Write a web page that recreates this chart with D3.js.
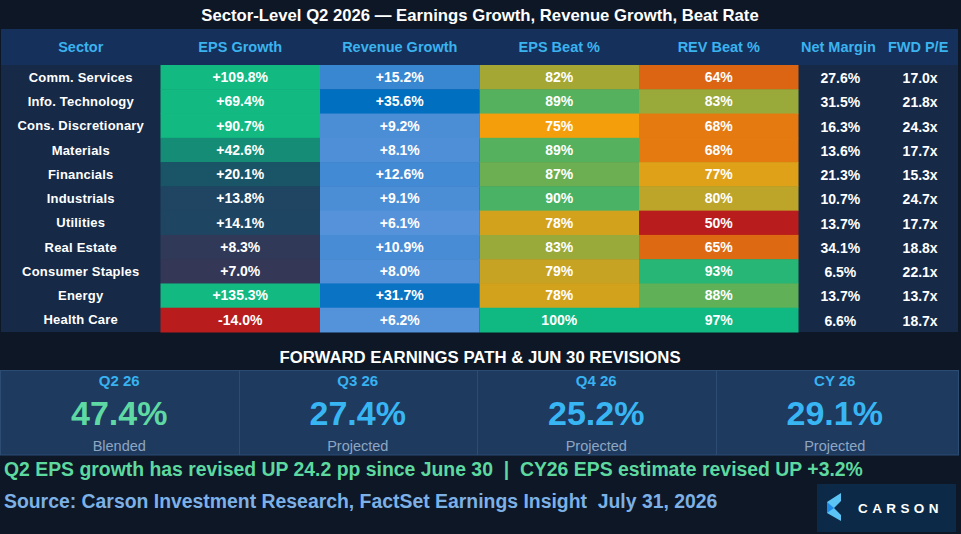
<!DOCTYPE html>
<html>
<head>
<meta charset="utf-8">
<script src="https://cdn.jsdelivr.net/npm/d3@7"></script>
<style>
  html, body { margin: 0; padding: 0; background: #0d1726; }
  svg { display: block; }
  text { font-family: "Liberation Sans", Arial, sans-serif; }
</style>
</head>
<body>
<div id="chart"></div>
<script>
// ---------------- DATA ----------------
const title = "Sector-Level Q2 2026 \u2014 Earnings Growth, Revenue Growth, Beat Rate";
const columns = ["Sector", "EPS Growth", "Revenue Growth", "EPS Beat %", "REV Beat %", "Net Margin", "FWD P/E"];
const sectors = ["Comm. Services", "Info. Technology", "Cons. Discretionary", "Materials", "Financials",
  "Industrials", "Utilities", "Real Estate", "Consumer Staples", "Energy", "Health Care"];
const epsGrowth = [109.8, 69.4, 90.7, 42.6, 20.1, 13.8, 14.1, 8.3, 7.0, 135.3, -14.0];
const revGrowth = [15.2, 35.6, 9.2, 8.1, 12.6, 9.1, 6.1, 10.9, 8.0, 31.7, 6.2];
const epsBeat = [82, 89, 75, 89, 87, 90, 78, 83, 79, 78, 100];
const revBeat = [64, 83, 68, 68, 77, 80, 50, 65, 93, 88, 97];
const netMargin = [27.6, 31.5, 16.3, 13.6, 21.3, 10.7, 13.7, 34.1, 6.5, 13.7, 6.6];
const fwdPE = [17.0, 21.8, 24.3, 17.7, 15.3, 24.7, 17.7, 18.8, 22.1, 13.7, 18.7];

const sectionTitle = "FORWARD EARNINGS PATH & JUN 30 REVISIONS";
const cardLabels = ["Q2 26", "Q3 26", "Q4 26", "CY 26"];
const cardValues = [47.4, 27.4, 25.2, 29.1];
const cardSubs = ["Blended", "Projected", "Projected", "Projected"];
const noteText = "Q2 EPS growth has revised UP 24.2 pp since June 30\u00a0\u00a0|\u00a0\u00a0CY26 EPS estimate revised UP +3.2%";
const sourceText = "Source: Carson Investment Research, FactSet Earnings Insight\u00a0\u00a0July 31, 2026";
const logoText = "CARSON";

// ---------------- LAYOUT ----------------
const W = 961, H = 534;
const svg = d3.select("#chart").append("svg").attr("width", W).attr("height", H);
svg.append("rect").attr("width", W).attr("height", H).attr("fill", "#0d1726");

const colWeights = [2, 2, 2, 2, 2, 1, 1];
const cum = [0]; colWeights.forEach(w => cum.push(cum[cum.length - 1] + w));
const xw = d3.scaleLinear().domain([0, cum[cum.length - 1]]).range([1, 958]);
const colX = i => xw(cum[i]);
const colW = i => xw(cum[i + 1]) - xw(cum[i]);

const y = d3.scaleBand().domain(sectors).range([65, 332]);

// color scales
const epsColor = d3.scaleLinear().domain([-10, 5, 15, 60])
  .range(["#b91c1c", "#3a3352", "#1b4764", "#12b981"]).clamp(true);
const revColor = d3.scaleLinear().domain([5, 35])
  .range(["#5893da", "#006fc0"]).clamp(true);
const beatColor = d3.scaleLinear().domain([50, 75, 95])
  .range(["#b91c1c", "#f59e0b", "#10b981"]).clamp(true);

const loc = d3.formatLocale({ decimal: ".", thousands: ",", grouping: [3], currency: ["$", ""], minus: "-" });
const fmtGrowth = v => loc.format("+.1f")(v) + "%";
const fmtBeat = v => loc.format("d")(v) + "%";
const fmtPct = v => loc.format(".1f")(v) + "%";
const fmtX = v => loc.format(".1f")(v) + "x";

// title
svg.append("text").attr("x", 480).attr("y", 15).attr("dy", "0.35em")
  .attr("text-anchor", "middle").attr("fill", "#ffffff")
  .attr("font-size", 16.7).attr("font-weight", "bold").text(title);

// header row
svg.append("rect").attr("x", 1).attr("y", 29).attr("width", 957).attr("height", 36).attr("fill", "#15305a");
svg.selectAll("text.hdr").data(columns).join("text").attr("class", "hdr")
  .attr("x", (d, i) => colX(i) + colW(i) / 2).attr("y", 47).attr("dy", "0.35em")
  .attr("text-anchor", "middle").attr("fill", "#3bb3ee")
  .attr("font-size", 14.5).attr("font-weight", "bold").text(d => d);

// table body background
svg.append("rect").attr("x", 1).attr("y", 65).attr("width", 957).attr("height", 267).attr("fill", "#162a47");

const colored = [
  { col: 1, vals: epsGrowth, color: epsColor, fmt: fmtGrowth },
  { col: 2, vals: revGrowth, color: revColor, fmt: fmtGrowth },
  { col: 3, vals: epsBeat, color: beatColor, fmt: fmtBeat },
  { col: 4, vals: revBeat, color: beatColor, fmt: fmtBeat }
];
colored.forEach(c => {
  const g = svg.append("g");
  g.selectAll("rect").data(sectors).join("rect")
    .attr("x", colX(c.col)).attr("y", d => y(d))
    .attr("width", colW(c.col)).attr("height", y.bandwidth() + 0.5)
    .attr("fill", (d, i) => c.color(c.vals[i]));
  g.selectAll("text").data(sectors).join("text")
    .attr("x", colX(c.col) + colW(c.col) / 2).attr("y", d => y(d) + y.bandwidth() / 2)
    .attr("dy", "0.35em").attr("text-anchor", "middle").attr("fill", "#ffffff")
    .attr("font-size", 14).attr("font-weight", "bold")
    .text((d, i) => c.fmt(c.vals[i]));
});

// sector names
svg.append("g").selectAll("text").data(sectors).join("text")
  .attr("x", colX(0) + colW(0) / 2).attr("y", d => y(d) + y.bandwidth() / 2)
  .attr("dy", "0.35em").attr("text-anchor", "middle").attr("fill", "#ffffff")
  .attr("font-size", 13).attr("font-weight", "bold").attr("letter-spacing", 0.2).text(d => d);

// plain columns
[{ col: 5, vals: netMargin, fmt: fmtPct }, { col: 6, vals: fwdPE, fmt: fmtX }].forEach(c => {
  svg.append("g").selectAll("text").data(sectors).join("text")
    .attr("x", colX(c.col) + colW(c.col) / 2 + 2).attr("y", d => y(d) + y.bandwidth() / 2 + 1)
    .attr("dy", "0.35em").attr("text-anchor", "middle").attr("fill", "#ffffff")
    .attr("font-size", 14).attr("font-weight", "bold").text((d, i) => c.fmt(c.vals[i]));
});

// section title
svg.append("text").attr("x", 480).attr("y", 357).attr("dy", "0.35em")
  .attr("text-anchor", "middle").attr("fill", "#ffffff")
  .attr("font-size", 16.75).attr("font-weight", "bold").text(sectionTitle);

// cards
const cx = d3.scaleBand().domain(cardLabels).range([0, 954]);
const cardTop = 370.5, cardBot = 455;
svg.append("rect").attr("x", 0.5).attr("y", cardTop).attr("width", 958).attr("height", cardBot - cardTop)
  .attr("fill", "#1e3a5f").attr("stroke", "#2d4c74").attr("stroke-width", 1);
svg.append("g").selectAll("line").data(cardLabels.slice(1)).join("line")
  .attr("x1", d => Math.round(cx(d)) + 0.5).attr("x2", d => Math.round(cx(d)) + 0.5)
  .attr("y1", cardTop).attr("y2", cardBot).attr("stroke", "#2d4c74").attr("stroke-width", 1);
const cards = svg.append("g").selectAll("g").data(cardLabels).join("g")
  .attr("transform", d => `translate(${cx(d) + cx.bandwidth() / 2},0)`);
cards.append("text").attr("y", 381).attr("dy", "0.35em").attr("text-anchor", "middle")
  .attr("fill", "#38b2f0").attr("font-size", 15).attr("font-weight", "bold").text(d => d);
cards.append("text").attr("y", 413).attr("dy", "0.35em").attr("text-anchor", "middle")
  .attr("fill", (d, i) => i === 0 ? "#5fd9a3" : "#38b6f4")
  .attr("font-size", 34).attr("font-weight", "bold").text((d, i) => loc.format(".1f")(cardValues[i]) + "%");
cards.append("text").attr("y", 446).attr("dy", "0.35em").attr("text-anchor", "middle")
  .attr("fill", "#8ea6c2").attr("font-size", 14.5).text((d, i) => cardSubs[i]);

// note and source
svg.append("text").attr("x", 4).attr("y", 469).attr("dy", "0.35em")
  .attr("fill", "#5dd9a0").attr("font-size", 19.4).attr("font-weight", "bold").text(noteText);
svg.append("text").attr("x", 4).attr("y", 501).attr("dy", "0.35em")
  .attr("fill", "#7db1e6").attr("font-size", 19.4).attr("font-weight", "bold").text(sourceText);

// logo
const logo = svg.append("g");
logo.append("rect").attr("x", 817).attr("y", 484).attr("width", 139).attr("height", 48).attr("fill", "#0c2a47");
logo.append("polygon").attr("points", "841,493 841,501 834,508 841,515 841,521 827,513 827,502").attr("fill", "#5bc4f5");
logo.append("polygon").attr("points", "827,502 834,508 827,513").attr("fill", "#1e8ae6");
logo.append("text").attr("x", 858).attr("y", 508.5).attr("dy", "0.35em")
  .attr("fill", "#ffffff").attr("font-family", "Lato, 'Open Sans', sans-serif")
  .attr("font-size", 13.5).attr("font-weight", 600).attr("letter-spacing", 4.4).text(logoText);
</script>
</body>
</html>
